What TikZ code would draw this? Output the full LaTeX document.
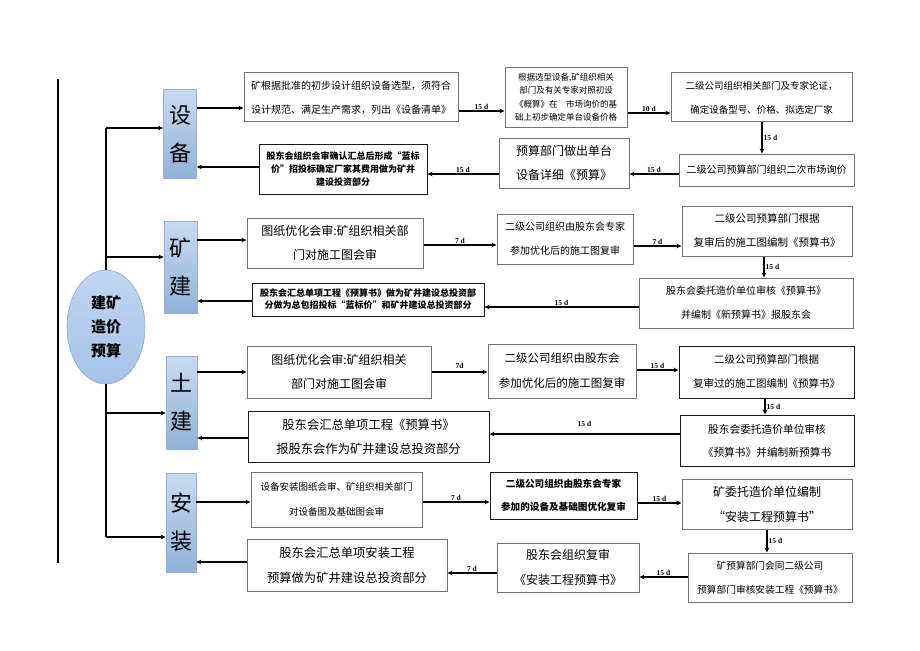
\documentclass[tikz,border=0pt]{standalone}
\usepackage{fontspec}
\newfontfamily\cjk{Noto Sans CJK SC}
\newfontfamily\labfont{Liberation Serif}
\usetikzlibrary{arrows.meta,shapes.geometric}
\newcommand\fsz[2]{\fontsize{#1pt}{#2pt}\selectfont}
\definecolor{catTop}{RGB}{200,218,240}
\definecolor{catBot}{RGB}{146,177,216}
\definecolor{catLine}{RGB}{150,175,210}
\definecolor{ellFill}{RGB}{166,195,232}
\definecolor{ellLine}{RGB}{140,170,210}
\tikzset{
  gbox/.style={draw=black!55, line width=1pt, fill=white, align=center, inner sep=0pt},
  dbox/.style={draw=black!90, line width=1pt, fill=white, align=center, inner sep=0pt},
  catbox/.style={draw=catLine, line width=0.6pt, top color=catTop, bottom color=catBot,
    inner sep=0pt, align=center, font={\cjk\fsz{22}{38}}},
  arr/.style={line width=1.3pt, -{Stealth[length=5pt,width=4.5pt]}},
  trunk/.style={line width=1.3pt},
  dlab/.style={font={\labfont\bfseries\fsz{7.5}{8}}, inner sep=1pt}
}
\begin{document}
\begin{tikzpicture}[x=1pt,y=-1pt]
\useasboundingbox[fill=white] (0,0) rectangle (920,650);

% left bar
\coordinate (L1) at (58,79);
\coordinate (L2) at (58,563);
\draw[line width=2pt] (L1) -- (L2);

% central ellipse
\node[ellipse, minimum width=78pt, minimum height=114pt, draw=ellLine, line width=0.6pt,
  top color=ellFill!70, bottom color=ellFill, inner sep=0pt, align=center,
  font={\cjk\bfseries\fsz{15}{24}}] (E) at (106,327) {建矿\\造价\\预算};

% category boxes
\node[catbox, minimum width=33pt, minimum height=89pt] (S1) at (180,134) {设\\备};
\node[catbox, minimum width=33pt, minimum height=92pt] (S2) at (180.5,267) {矿\\建};
\node[catbox, minimum width=31pt, minimum height=93pt] (S3) at (181.5,402.5) {土\\建};
\node[catbox, minimum width=30pt, minimum height=99pt] (S4) at (181,522.5) {安\\装};

% trunk
\coordinate (T1) at (106,128);
\coordinate (T2) at (106,257);
\coordinate (T3) at (106,413);
\coordinate (T4) at (106,537);
\draw[trunk] (E.north) -- (T1);
\draw[trunk] (E.south) -- (T4);
\draw[arr] (T1) -- (T1 -| S1.west);
\draw[arr] (T2) -- (T2 -| S2.west);
\draw[arr] (T3) -- (T3 -| S3.west);
\draw[arr] (T4) -- (T4 -| S4.west);

% ---------- row 1: 设备 ----------
\node[gbox, minimum width=214pt, minimum height=49pt, font={\cjk\fsz{10}{24}}] (A1) at (351,97.5)
  {矿根据批准的初步设计组织设备选型，须符合\\设计规范、满足生产需求，列出《设备清单》};
\node[gbox, minimum width=122pt, minimum height=59pt, font={\cjk\fsz{8.5}{13.5}}] (A2) at (566,97.5)
  {根据选型设备,矿组织相关\\部门及有关专家对照初设\\《概算》在\quad 市场询价的基\\础上初步确定单台设备价格};
\node[gbox, minimum width=181pt, minimum height=49pt, font={\cjk\fsz{9.5}{24}}] (A3) at (761.5,97.5)
  {二级公司组织相关部门及专家论证，\\确定设备型号、价格、拟选定厂家};
\node[gbox, minimum width=175pt, minimum height=32pt, font={\cjk\fsz{10}{14}}] (A4) at (766.5,170)
  {二级公司预算部门组织二次市场询价};
\node[gbox, minimum width=130pt, minimum height=50pt, font={\cjk\fsz{12}{24}}] (A5) at (564,163)
  {预算部门做出单台\\设备详细《预算》};
\node[dbox, minimum width=168pt, minimum height=50pt, font={\cjk\bfseries\fsz{9}{13}}] (A6) at (343,169)
  {股东会组织会审确认汇总后形成“蓝标\\价”招投标确定厂家其费用做为矿井\\建设投资部分};

\draw[arr] (S1.east |- 0,108) -- (A1.west |- 0,108);
\draw[arr] (A1.east |- 0,111) -- node[dlab,above]{15 d} (A2.west |- 0,111);
\draw[arr] (A2.east |- 0,113) -- node[dlab,above]{10 d} (A3.west |- 0,113);
\draw[arr] (A3.south -| 762,0) -- node[dlab,right]{15 d} (A4.north -| 762,0);
\draw[arr] (A4.west |- 0,174) -- node[dlab,above]{15 d} (A5.east |- 0,174);
\draw[arr] (A5.west |- 0,174) -- node[dlab,above]{15 d} (A6.east |- 0,174);
\draw[arr] (A6.west |- 0,167) -- (S1.east |- 0,167);

% ---------- row 2: 矿建 ----------
\node[gbox, minimum width=176pt, minimum height=50pt, font={\cjk\fsz{12}{24}}] (B1) at (335,243)
  {图纸优化会审:矿组织相关部\\门对施工图会审};
\node[gbox, minimum width=136pt, minimum height=50pt, font={\cjk\fsz{10}{24}}] (B2) at (565,239)
  {二级公司组织由股东会专家\\参加优化后的施工图复审};
\node[gbox, minimum width=170pt, minimum height=50pt, font={\cjk\fsz{10.5}{24}}] (B3) at (767,231)
  {二级公司预算部门根据\\复审后的施工图编制《预算书》};
\node[gbox, minimum width=214pt, minimum height=50pt, font={\cjk\fsz{10}{24}}] (B4) at (746,303)
  {股东会委托造价单位审核《预算书》\\并编制《新预算书》报股东会};
\node[dbox, minimum width=232pt, minimum height=33pt, font={\cjk\bfseries\fsz{9}{12}}] (B5) at (368,299.5)
  {股东会汇总单项工程《预算书》做为矿井建设总投资部\\分做为总包招投标“蓝标价”和矿井建设总投资部分};

\draw[arr] (S2.east |- 0,240) -- (B1.west |- 0,240);
\draw[arr] (B1.east |- 0,245) -- node[dlab,above]{7 d} (B2.west |- 0,245);
\draw[arr] (B2.east |- 0,246) -- node[dlab,above]{7 d} (B3.west |- 0,246);
\draw[arr] (B3.south -| 764,0) -- node[dlab,right]{15 d} (B4.north -| 764,0);
\draw[arr] (B4.west |- 0,307) -- node[dlab,above]{15 d} (B5.east |- 0,307);
\draw[arr] (B5.west |- 0,301) -- (S2.east |- 0,301);

% ---------- row 3: 土建 ----------
\node[gbox, minimum width=184pt, minimum height=52pt, font={\cjk\fsz{12}{24}}] (C1) at (339,372)
  {图纸优化会审:矿组织相关\\部门对施工图会审};
\node[gbox, minimum width=148pt, minimum height=54pt, font={\cjk\fsz{11.5}{25}}] (C2) at (562,371)
  {二级公司组织由股东会\\参加优化后的施工图复审};
\node[dbox, minimum width=175pt, minimum height=52pt, font={\cjk\fsz{10.5}{24}}] (C3) at (766.5,372)
  {二级公司预算部门根据\\复审过的施工图编制《预算书》};
\node[dbox, minimum width=174pt, minimum height=51pt, font={\cjk\fsz{10.7}{23}}] (C4) at (767,440.5)
  {股东会委托造价单位审核\\《预算书》并编制新预算书};
\node[dbox, minimum width=241pt, minimum height=51pt, font={\cjk\fsz{12.3}{24}}] (C5) at (368.5,436.5)
  {股东会汇总单项工程《预算书》\\报股东会作为矿井建设总投资部分};

\draw[arr] (S3.east |- 0,372) -- (C1.west |- 0,372);
\draw[arr] (C1.east |- 0,372) -- node[dlab,above=2pt]{7d} (C2.west |- 0,372);
\draw[arr] (C2.east |- 0,370) -- node[dlab,above]{15 d} (C3.west |- 0,370);
\draw[arr] (C3.south -| 765,0) -- node[dlab,right]{15 d} (C4.north -| 765,0);
\draw[arr] (C4.west |- 0,434) -- node[dlab,above=6pt]{15 d} (C5.east |- 0,434);
\draw[arr] (C5.west |- 0,438) -- (S3.east |- 0,438);

% ---------- row 4: 安装 ----------
\node[gbox, minimum width=171pt, minimum height=55pt, font={\cjk\fsz{9.5}{25}}] (D1) at (336.5,499.5)
  {设备安装图纸会审、矿组织相关部门\\对设备图及基础图会审};
\node[dbox, minimum width=147pt, minimum height=47pt, font={\cjk\bfseries\fsz{9.6}{23}}] (D2) at (563.5,495.5)
  {二级公司组织由股东会专家\\参加的设备及基础图优化复审};
\node[gbox, minimum width=170pt, minimum height=50pt, font={\cjk\fsz{12}{25}}] (D3) at (767,504)
  {矿委托造价单位编制\\“安装工程预算书”};
\node[gbox, minimum width=164pt, minimum height=49pt, font={\cjk\fsz{9.7}{24}}] (D4) at (770,577.5)
  {矿预算部门会同二级公司\\预算部门审核安装工程《预算书》};
\node[gbox, minimum width=142pt, minimum height=49pt, font={\cjk\fsz{12}{25}}] (D5) at (568,567.5)
  {股东会组织复审\\《安装工程预算书》};
\node[gbox, minimum width=200pt, minimum height=52pt, font={\cjk\fsz{12.3}{25}}] (D6) at (347,565)
  {股东会汇总单项安装工程\\预算做为矿井建设总投资部分};

\draw[arr] (S4.east |- 0,502) -- (D1.west |- 0,502);
\draw[arr] (D1.east |- 0,502) -- node[dlab,above]{7 d} (D2.west |- 0,502);
\draw[arr] (D2.east |- 0,503) -- node[dlab,above]{15 d} (D3.west |- 0,503);
\draw[arr] (D3.south -| 767,0) -- node[dlab,right]{15 d} (D4.north -| 767,0);
\draw[arr] (D4.west |- 0,577) -- node[dlab,above]{15 d} (D5.east |- 0,577);
\draw[arr] (D5.west |- 0,573) -- node[dlab,above]{7 d} (D6.east |- 0,573);
\draw[arr] (D6.west |- 0,562) -- (S4.east |- 0,562);
\end{tikzpicture}
\end{document}
